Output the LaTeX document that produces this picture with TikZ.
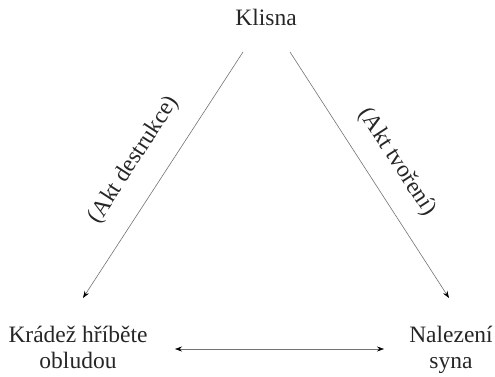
\documentclass[tikz,border=0pt]{standalone}
\usepackage{fontspec}
\setmainfont{Liberation Serif}
\usetikzlibrary{arrows.meta}
\begin{document}
\begin{tikzpicture}[x=1pt,y=1pt,
  lbl/.style={font=\fontsize{23.5}{26}\selectfont, inner sep=0pt, align=center, text=black!85},
  conn/.style={draw=black!55, line width=0.6pt, -{Stealth[length=7pt,width=5pt,black]}},
  bconn/.style={draw=black!55, line width=0.6pt, {Stealth[length=7pt,width=5pt,black]}-{Stealth[length=7pt,width=5pt,black]}}]
\useasboundingbox (0,0) rectangle (495,376);
\node[lbl, anchor=base] (K) at (266,351) {Klisna};
\node[lbl, anchor=base] (L) at (78,8) {Krádež hříběte\\obludou};
\node[lbl, anchor=base] (R) at (451,8) {Nalezení\\syna};
\coordinate (k1) at (243,324);
\coordinate (k2) at (290,324);
\coordinate (l1) at (83,78);
\coordinate (r1) at (449,78);
\coordinate (l2) at (175,27);
\coordinate (r2) at (384,27);
\draw[conn] (k1) -- (l1);
\draw[conn] (k2) -- (r1);
\draw[bconn] (l2) -- (r2);
\node[lbl, rotate=57] (A1) at (134,216) {(Akt destrukce)};
\node[lbl, rotate=-57] (A2) at (397,214) {(Akt tvoření)};
\end{tikzpicture}
\end{document}
